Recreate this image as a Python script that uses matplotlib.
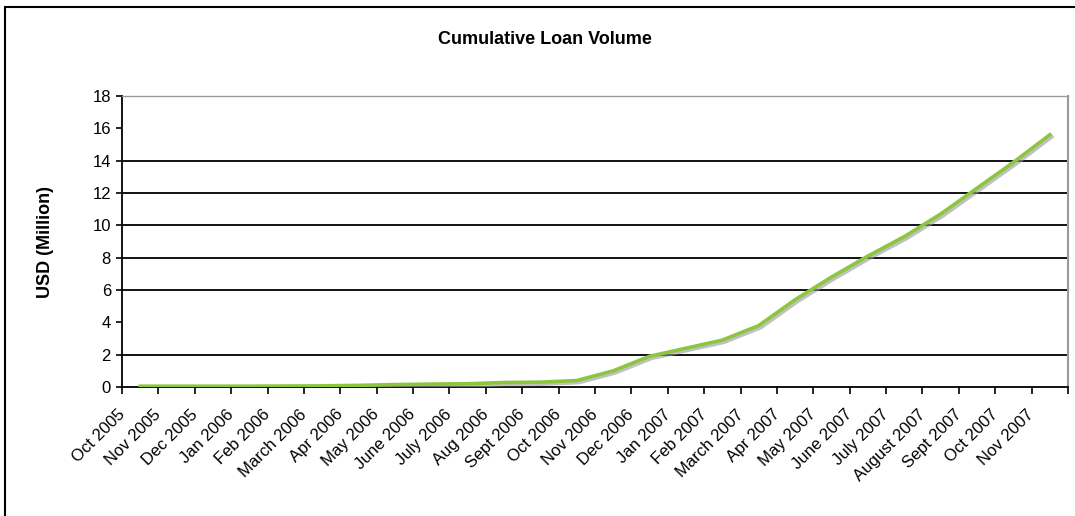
import matplotlib
matplotlib.use("Agg")
import matplotlib.pyplot as plt
import matplotlib.patheffects as pe
import matplotlib.transforms as mtransforms
from matplotlib.patches import Rectangle

months = ["Oct 2005", "Nov 2005", "Dec 2005", "Jan 2006", "Feb 2006", "March 2006",
          "Apr 2006", "May 2006", "June 2006", "July 2006", "Aug 2006", "Sept 2006",
          "Oct 2006", "Nov 2006", "Dec 2006", "Jan 2007", "Feb 2007", "March 2007",
          "Apr 2007", "May 2007", "June 2007", "July 2007", "August 2007", "Sept 2007",
          "Oct 2007", "Nov 2007"]
loan_volume = [0.05, 0.05, 0.05, 0.05, 0.06, 0.07, 0.10, 0.15, 0.18, 0.20, 0.28, 0.30,
               0.40, 1.0, 1.9, 2.4, 2.9, 3.8, 5.4, 6.8, 8.1, 9.3, 10.7, 12.3, 13.9, 15.6]
y_ticks = [0, 2, 4, 6, 8, 10, 12, 14, 16, 18]
grid_values = [2, 6, 8, 10, 12, 14]

plt.rcParams['font.family'] = ['Liberation Sans', 'DejaVu Sans']

fig = plt.figure(figsize=(10.75, 5.16), dpi=100)
ax = fig.add_axes([122/1075, 1-387/516, (1068-122)/1075, (387-96)/516])

x = list(range(len(months)))
for g in grid_values:
    ax.axhline(g, color='black', lw=1.3, zorder=1)

ax.plot(x, loan_volume, color='#8cc63e', lw=2.6, zorder=3,
        path_effects=[pe.SimpleLineShadow(offset=(1.5, -1.5), shadow_color='#999999', alpha=0.6),
                      pe.Normal()])

ax.set_xlim(-0.5, len(months) - 0.5)
ax.set_ylim(0, 18)
ax.set_yticks(y_ticks)
ax.set_yticklabels([str(v) for v in y_ticks], fontsize=12)
ax.set_xticks([i - 0.5 for i in range(len(months) + 1)])
ax.set_xticklabels([])
ax.tick_params(axis='x', which='major', length=5, width=1.2, direction='out')
ax.tick_params(axis='y', length=4, width=1.2, direction='out', pad=4)

label_tf = mtransforms.offset_copy(ax.get_xaxis_transform(), fig=fig, x=-18, y=-25, units='dots')
for i, m in enumerate(months):
    ax.text(i, 0, m, transform=label_tf, rotation=45, rotation_mode='anchor',
            ha='right', va='center', fontsize=12, clip_on=False)

ax.spines['left'].set_color('black')
ax.spines['left'].set_linewidth(1.3)
ax.spines['bottom'].set_color('black')
ax.spines['bottom'].set_linewidth(1.3)
ax.spines['top'].set_color('#999999')
ax.spines['top'].set_linewidth(1.0)
ax.spines['right'].set_color('#999999')
ax.spines['right'].set_linewidth(1.5)

fig.text(45/1075, 1-242/516, "USD (Million)", rotation=90, ha='center', va='center',
         fontsize=13, fontweight='bold')
fig.text(545/1075, 1-40/516, "Cumulative Loan Volume", ha='center', va='center',
         fontsize=13, fontweight='bold')

fig.patches.append(Rectangle((5/1075, -0.05), 1.2, 1-7/516 + 0.05, transform=fig.transFigure,
                             fill=False, edgecolor='black', lw=1.5))

fig.savefig("out.png", dpi=100)
